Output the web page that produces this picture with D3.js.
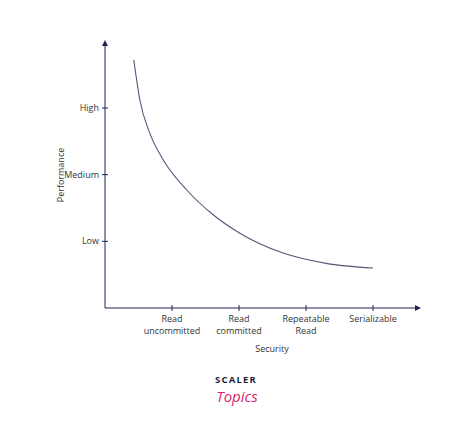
<!DOCTYPE html>
<html><head><meta charset="utf-8">
<script src="https://cdn.jsdelivr.net/npm/d3@7"></script>
<style>body{margin:0;background:#fff}text{font-family:"Open Sans",sans-serif}</style>
</head><body>
<script>
// security levels on x, performance levels on y
var xLabels = [["Read","uncommitted"],["Read","committed"],["Repeatable","Read"],["Serializable"]];
var yLabels = ["Low","Medium","High"];
// curve samples (x in level units, y in level units)
var curveX = [0.43, 0.52, 0.67, 0.87, 1.22, 1.6, 2.0, 2.67, 3.3, 4.0];
var curveY = [3.72, 3.12, 2.62, 2.22, 1.77, 1.41, 1.13, 0.82, 0.67, 0.6];

var svg = d3.select("body").append("svg").attr("width",474).attr("height",436);
var x = d3.scaleLinear().domain([0,4]).range([105,373]);
var y = d3.scaleLinear().domain([0,3]).range([308,108]);
var ax = "#23234f";

svg.append("line").attr("x1",105).attr("y1",308).attr("x2",417).attr("y2",308).attr("stroke",ax);
svg.append("line").attr("x1",105).attr("y1",308).attr("x2",105).attr("y2",44).attr("stroke",ax);
svg.append("path").attr("d","M421,308 L415,305 L415,311Z").attr("fill",ax);
svg.append("path").attr("d","M105,40 L102,46 L108,46Z").attr("fill",ax);

xLabels.forEach(function(l,i){
	var px = x(i+1);
	svg.append("line").attr("x1",px).attr("x2",px).attr("y1",305).attr("y2",311).attr("stroke",ax);
	l.forEach(function(t,j){
		svg.append("text").attr("x",px).attr("y",322+j*11.5).attr("text-anchor","middle")
			.attr("font-size",9).attr("fill","#333").text(t);
	})
})
yLabels.forEach(function(l,i){
	var py = y(i+1);
	svg.append("line").attr("x1",102).attr("x2",108).attr("y1",py).attr("y2",py).attr("stroke",ax);
	svg.append("text").attr("x",99).attr("y",py+3).attr("text-anchor","end")
		.attr("font-size",9).attr("fill","#333").text(l);
})
svg.append("text").attr("x",272).attr("y",352).attr("text-anchor","middle").attr("font-size",9).attr("fill","#333").text("Security");
svg.append("text").attr("transform","translate(64,175) rotate(-90)").attr("text-anchor","middle").attr("font-size",9).attr("fill","#333").text("Performance");

var line = d3.line().x(function(d){return x(d[0])}).y(function(d){return y(d[1])}).curve(d3.curveMonotoneX);
svg.append("path").datum(d3.zip(curveX,curveY)).attr("d",line).attr("fill","none").attr("stroke","#55557a").attr("stroke-width",1.1);

// logo
svg.append("text").attr("x",236).attr("y",383).attr("text-anchor","middle").attr("font-size",9.5)
	.attr("font-weight","bold").attr("letter-spacing",1.2).attr("fill","#1d1d3a").text("SCALER");
svg.append("text").attr("x",237).attr("y",402).attr("text-anchor","middle").attr("font-size",15)
	.attr("font-style","italic").attr("font-family","DejaVu Serif").attr("fill","#d9246f").text("Topics");
</script>
</body></html>
